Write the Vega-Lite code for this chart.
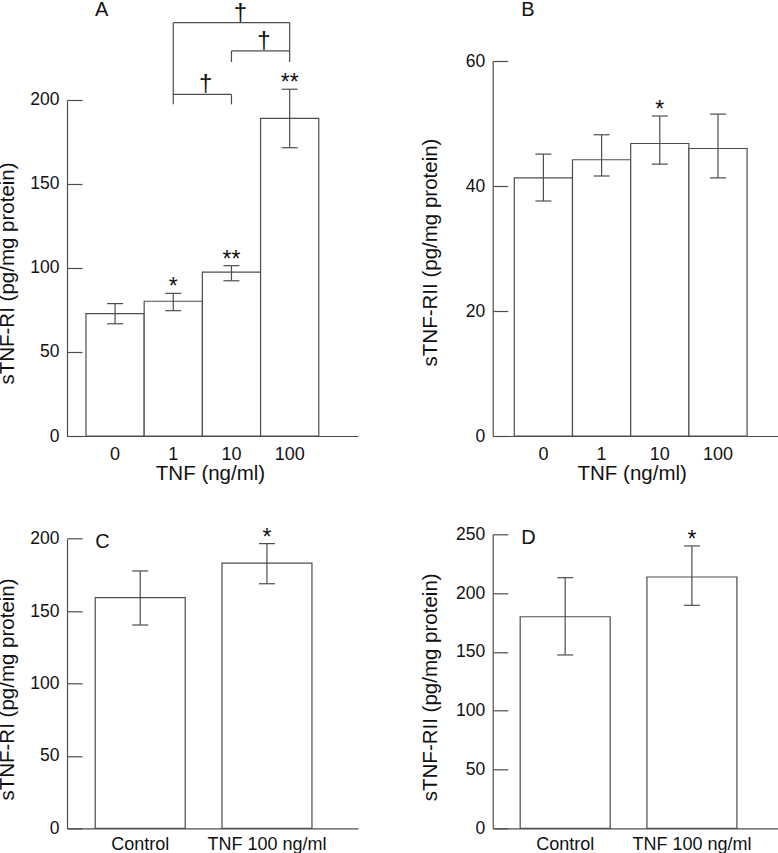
{
  "$schema": "https://vega.github.io/schema/vega-lite/v6.json",
  "padding": {"left": -3, "top": -1, "right": 0, "bottom": 0},
  "background": "white",
  "columns": 2,
  "bounds": "flush",
  "spacing": {"row": 98.3, "column": 134.7},
  "datasets": {
    "A": [
      {"tnf": "0", "mean": 72.8, "lo": 66.8, "hi": 78.8, "sig": ""},
      {"tnf": "1", "mean": 80.2, "lo": 74.6, "hi": 84.9, "sig": "*"},
      {"tnf": "10", "mean": 97.6, "lo": 92.4, "hi": 101.4, "sig": "**"},
      {"tnf": "100", "mean": 189.1, "lo": 171.6, "hi": 206.4, "sig": "**"}
    ],
    "B": [
      {"tnf": "0", "mean": 41.3, "lo": 37.6, "hi": 45.1, "sig": ""},
      {"tnf": "1", "mean": 44.2, "lo": 41.6, "hi": 48.2, "sig": ""},
      {"tnf": "10", "mean": 46.8, "lo": 43.5, "hi": 51.2, "sig": "*"},
      {"tnf": "100", "mean": 46.0, "lo": 41.3, "hi": 51.5, "sig": ""}
    ],
    "C": [
      {"group": "Control", "mean": 159.3, "lo": 140.4, "hi": 177.7, "sig": ""},
      {"group": "TNF 100 ng/ml", "mean": 183.2, "lo": 168.9, "hi": 196.6, "sig": "*"}
    ],
    "D": [
      {"group": "Control", "mean": 179.9, "lo": 147.4, "hi": 213.1, "sig": ""},
      {"group": "TNF 100 ng/ml", "mean": 213.7, "lo": 189.6, "hi": 240.1, "sig": "*"}
    ],
    "bracketsA": [
      {"x": "1", "x2": "100", "y": 246, "y2": 246},
      {"x": "10", "x2": "100", "y": 229.2, "y2": 229.2},
      {"x": "1", "x2": "10", "y": 203.4, "y2": 203.4},
      {"x": "1", "x2": "1", "y": 197.4, "y2": 246},
      {"x": "100", "x2": "100", "y": 222.6, "y2": 246},
      {"x": "10", "x2": "10", "y": 222.6, "y2": 229.2},
      {"x": "10", "x2": "10", "y": 197.4, "y2": 203.4}
    ]
  },
  "concat": [
    {
      "width": 291,
      "height": 375,
      "data": {"name": "A"},
      "layer": [
        {
          "mark": {"type": "bar", "fill": "white", "stroke": "#4d4d4d", "strokeWidth": 1.2},
          "encoding": {
            "x": {"field": "tnf", "type": "nominal",
              "scale": {"domain": ["0", "1", "10", "100"], "paddingInner": 0, "paddingOuter": 0.5, "align": 0.326},
              "axis": {"title": "TNF (ng/ml)", "titleX": 143}},
            "y": {"field": "mean", "type": "quantitative",
              "scale": {"domain": [0, 223.21], "nice": false},
              "axis": {"title": "sTNF-RI (pg/mg protein)", "values": [0, 50, 100, 150, 200], "domainDash": [336, 200], "titleY": 212, "titlePadding": 12}}
          }
        },
        {
          "mark": {"type": "rule", "stroke": "#4d4d4d", "strokeWidth": 1.2},
          "encoding": {"x": {"field": "tnf", "type": "nominal"}, "y": {"field": "lo", "type": "quantitative"}, "y2": {"field": "hi"}}
        },
        {
          "mark": {"type": "tick", "size": 16, "thickness": 1.2, "color": "#4d4d4d", "opacity": 1},
          "encoding": {"x": {"field": "tnf", "type": "nominal"}, "y": {"field": "lo", "type": "quantitative"}}
        },
        {
          "mark": {"type": "tick", "size": 16, "thickness": 1.2, "color": "#4d4d4d", "opacity": 1},
          "encoding": {"x": {"field": "tnf", "type": "nominal"}, "y": {"field": "hi", "type": "quantitative"}}
        },
        {
          "mark": {"type": "text", "fontSize": 23, "baseline": "alphabetic", "dy": 1, "color": "#111"},
          "encoding": {"x": {"field": "tnf", "type": "nominal"}, "y": {"field": "hi", "type": "quantitative"}, "text": {"field": "sig"}}
        },
        {
          "data": {"name": "bracketsA"},
          "mark": {"type": "rule", "stroke": "#4d4d4d", "strokeWidth": 1.2},
          "encoding": {"x": {"field": "x", "type": "nominal"}, "x2": {"field": "x2"}, "y": {"field": "y", "type": "quantitative"}, "y2": {"field": "y2"}}
        },
        {
          "data": {"values": [{"label": "†", "at": "10", "y": 246}]},
          "mark": {"type": "text", "fontSize": 24, "baseline": "alphabetic", "dy": -3, "dx": 9, "color": "#111"},
          "encoding": {"x": {"field": "at", "type": "nominal"}, "y": {"field": "y", "type": "quantitative"}, "text": {"field": "label"}}
        },
        {
          "data": {"values": [{"label": "†", "at": "10", "y": 229.2}, {"label": "†", "at": "1", "y": 203.4}]},
          "mark": {"type": "text", "fontSize": 24, "baseline": "alphabetic", "dy": -3, "dx": 32.5, "color": "#111"},
          "encoding": {"x": {"field": "at", "type": "nominal"}, "y": {"field": "y", "type": "quantitative"}, "text": {"field": "label"}}
        },
        {
          "data": {"values": [{"label": "A"}]},
          "mark": {"type": "text", "fontSize": 20, "baseline": "alphabetic", "align": "left", "dx": 9, "color": "#111"},
          "encoding": {"x": {"datum": "0", "bandPosition": 0}, "y": {"datum": 250}, "text": {"field": "label"}}
        }
      ]
    },
    {
      "width": 291,
      "height": 375,
      "data": {"name": "B"},
      "layer": [
        {
          "mark": {"type": "bar", "fill": "white", "stroke": "#4d4d4d", "strokeWidth": 1.2},
          "encoding": {
            "x": {"field": "tnf", "type": "nominal",
              "scale": {"domain": ["0", "1", "10", "100"], "paddingInner": 0, "paddingOuter": 0.5, "align": 0.371},
              "axis": {"title": "TNF (ng/ml)", "titleX": 139}},
            "y": {"field": "mean", "type": "quantitative",
              "scale": {"domain": [0, 60], "nice": false},
              "axis": {"title": "sTNF-RII (pg/mg protein)", "values": [0, 20, 40, 60], "titleY": 191, "titlePadding": 25}}
          }
        },
        {
          "mark": {"type": "rule", "stroke": "#4d4d4d", "strokeWidth": 1.2},
          "encoding": {"x": {"field": "tnf", "type": "nominal"}, "y": {"field": "lo", "type": "quantitative"}, "y2": {"field": "hi"}}
        },
        {
          "mark": {"type": "tick", "size": 16, "thickness": 1.2, "color": "#4d4d4d", "opacity": 1},
          "encoding": {"x": {"field": "tnf", "type": "nominal"}, "y": {"field": "lo", "type": "quantitative"}}
        },
        {
          "mark": {"type": "tick", "size": 16, "thickness": 1.2, "color": "#4d4d4d", "opacity": 1},
          "encoding": {"x": {"field": "tnf", "type": "nominal"}, "y": {"field": "hi", "type": "quantitative"}}
        },
        {
          "mark": {"type": "text", "fontSize": 23, "baseline": "alphabetic", "dy": 1, "color": "#111"},
          "encoding": {"x": {"field": "tnf", "type": "nominal"}, "y": {"field": "hi", "type": "quantitative"}, "text": {"field": "sig"}}
        },
        {
          "data": {"values": [{"label": "B"}]},
          "mark": {"type": "text", "fontSize": 20, "baseline": "alphabetic", "align": "left", "dx": 7, "color": "#111"},
          "encoding": {"x": {"datum": "0", "bandPosition": 0}, "y": {"datum": 67.2}, "text": {"field": "label"}}
        }
      ]
    },
    {
      "width": 291,
      "height": 294,
      "data": {"name": "C"},
      "layer": [
        {
          "mark": {"type": "bar", "fill": "white", "stroke": "#4d4d4d", "strokeWidth": 1.2},
          "encoding": {
            "x": {"field": "group", "type": "nominal",
              "scale": {"domain": ["Control", "TNF 100 ng/ml"], "paddingInner": 0.29, "paddingOuter": 0.293, "align": 0.38},
              "axis": {"title": null, "labelFontSize": 18, "labelPadding": 7}},
            "y": {"field": "mean", "type": "quantitative",
              "scale": {"domain": [0, 203.04], "nice": false},
              "axis": {"title": "sTNF-RI (pg/mg protein)", "values": [0, 50, 100, 150, 200], "domainDash": [289.6, 200], "titleY": 154.7, "titlePadding": 12}}
          }
        },
        {
          "mark": {"type": "rule", "stroke": "#4d4d4d", "strokeWidth": 1.2},
          "encoding": {"x": {"field": "group", "type": "nominal"}, "y": {"field": "lo", "type": "quantitative"}, "y2": {"field": "hi"}}
        },
        {
          "mark": {"type": "tick", "size": 16, "thickness": 1.2, "color": "#4d4d4d", "opacity": 1},
          "encoding": {"x": {"field": "group", "type": "nominal"}, "y": {"field": "lo", "type": "quantitative"}}
        },
        {
          "mark": {"type": "tick", "size": 16, "thickness": 1.2, "color": "#4d4d4d", "opacity": 1},
          "encoding": {"x": {"field": "group", "type": "nominal"}, "y": {"field": "hi", "type": "quantitative"}}
        },
        {
          "mark": {"type": "text", "fontSize": 23, "baseline": "alphabetic", "dy": 1, "color": "#111"},
          "encoding": {"x": {"field": "group", "type": "nominal"}, "y": {"field": "hi", "type": "quantitative"}, "text": {"field": "sig"}}
        },
        {
          "data": {"values": [{"label": "C"}]},
          "mark": {"type": "text", "fontSize": 20, "baseline": "alphabetic", "align": "left", "dx": 0, "color": "#111"},
          "encoding": {"x": {"datum": "Control", "bandPosition": 0}, "y": {"datum": 193.8}, "text": {"field": "label"}}
        }
      ]
    },
    {
      "width": 291,
      "height": 294,
      "data": {"name": "D"},
      "layer": [
        {
          "mark": {"type": "bar", "fill": "white", "stroke": "#4d4d4d", "strokeWidth": 1.2},
          "encoding": {
            "x": {"field": "group", "type": "nominal",
              "scale": {"domain": ["Control", "TNF 100 ng/ml"], "paddingInner": 0.29, "paddingOuter": 0.293, "align": 0.37},
              "axis": {"title": null, "labelFontSize": 18, "labelPadding": 7}},
            "y": {"field": "mean", "type": "quantitative",
              "scale": {"domain": [0, 250], "nice": false},
              "axis": {"title": "sTNF-RII (pg/mg protein)", "values": [0, 50, 100, 150, 200, 250], "titleY": 152.5, "titlePadding": 15}}
          }
        },
        {
          "mark": {"type": "rule", "stroke": "#4d4d4d", "strokeWidth": 1.2},
          "encoding": {"x": {"field": "group", "type": "nominal"}, "y": {"field": "lo", "type": "quantitative"}, "y2": {"field": "hi"}}
        },
        {
          "mark": {"type": "tick", "size": 16, "thickness": 1.2, "color": "#4d4d4d", "opacity": 1},
          "encoding": {"x": {"field": "group", "type": "nominal"}, "y": {"field": "lo", "type": "quantitative"}}
        },
        {
          "mark": {"type": "tick", "size": 16, "thickness": 1.2, "color": "#4d4d4d", "opacity": 1},
          "encoding": {"x": {"field": "group", "type": "nominal"}, "y": {"field": "hi", "type": "quantitative"}}
        },
        {
          "mark": {"type": "text", "fontSize": 23, "baseline": "alphabetic", "dy": 1, "color": "#111"},
          "encoding": {"x": {"field": "group", "type": "nominal"}, "y": {"field": "hi", "type": "quantitative"}, "text": {"field": "sig"}}
        },
        {
          "data": {"values": [{"label": "D"}]},
          "mark": {"type": "text", "fontSize": 20, "baseline": "alphabetic", "align": "left", "dx": 1, "color": "#111"},
          "encoding": {"x": {"datum": "Control", "bandPosition": 0}, "y": {"datum": 241.5}, "text": {"field": "label"}}
        }
      ]
    }
  ],
  "config": {
    "font": "Liberation Sans",
    "view": {"stroke": null},
    "axis": {
      "grid": false,
      "domainColor": "#4d4d4d",
      "tickColor": "#4d4d4d",
      "domainWidth": 1.2,
      "tickWidth": 1.2,
      "labelColor": "#111",
      "titleColor": "#111",
      "labelFont": "Liberation Sans",
      "titleFont": "Liberation Sans",
      "titleFontWeight": "normal",
      "labelFontSize": 17.5,
      "titleFontSize": 20.5
    },
    "axisY": {"tickSize": -15, "labelPadding": 23, "titlePadding": 12},
    "axisX": {"ticks": false, "labelPadding": 9, "labelAngle": 0, "titlePadding": 0, "labelFontSize": 18}
  }
}
